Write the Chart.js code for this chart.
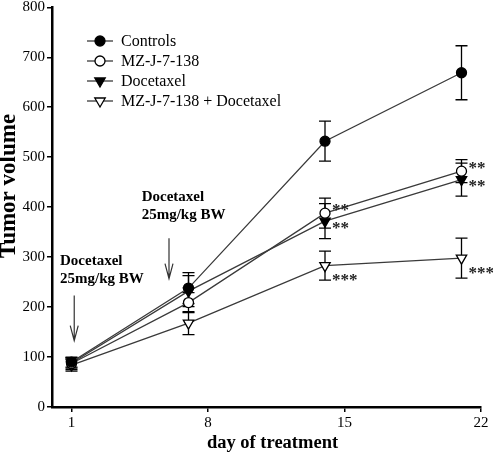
<!DOCTYPE html>
<html lang="en">
<head>
<meta charset="UTF-8">
<title>Tumor volume</title>
<script src="https://cdn.jsdelivr.net/npm/chart.js"></script>
<style>
  body { margin: 0; background: #fff; }
  #box { width: 493px; height: 452px; }
</style>
</head>
<body>
<div id="box"><canvas id="grafico"></canvas></div>
<script>
// data
const days = [1, 7, 14, 21]
const xTicks = [1, 8, 15, 22]
const controls = [90, 238, 532, 669]
const controlsErr = [10, 31, 40, 54]
const mz = [87, 209, 388, 472]
const mzErr = [12, 20, 30, 23]
const docetaxel = [88, 232, 372, 455]
const docetaxelErr = [10, 31, 35, 33]
const combo = [84, 168, 283, 298]
const comboErr = [12, 23, 29, 40]
const mzStars = ["", "", "**", "**"]
const docetaxelStars = ["", "", "**", "**"]
const comboStars = ["", "", "***", "***"]
// dosing arrows: day, arrow top value, arrow tip value
const doseDays = [1.14, 6.0]
const doseTop = [223, 338]
const doseTip = [133, 257]
const doseText = ["Docetaxel", "25mg/kg BW"]
const doseTextDay = [0.41, 4.6]
const doseTextValue = [292, 420]
const xTitle = "day of treatment"
const yTitle = "Tumor volume"

const serif = "'Liberation Serif', 'Times New Roman', serif"
const lineColor = "#3a3a3a"

function puntos(valores) {
    return days.map((d, i) => ({ x: d, y: valores[i] }))
}

const series = [
    { label: "Controls", data: puntos(controls), err: controlsErr, stars: null, starDy: 0,
      pointStyle: "circle", fill: "#000", radius: 5, rotation: 0 },
    { label: "MZ-J-7-138", data: puntos(mz), err: mzErr, stars: mzStars, starDy: -6,
      pointStyle: "circle", fill: "#fff", radius: 5, rotation: 0 },
    { label: "Docetaxel", data: puntos(docetaxel), err: docetaxelErr, stars: docetaxelStars, starDy: 4,
      pointStyle: "triangle", fill: "#000", radius: 6, rotation: 180 },
    { label: "MZ-J-7-138 + Docetaxel", data: puntos(combo), err: comboErr, stars: comboStars, starDy: 12,
      pointStyle: "triangle", fill: "#fff", radius: 6, rotation: 180 }
]

let datasetChart = series.map(s => ({
    label: s.label,
    data: s.data,
    borderColor: lineColor,
    borderWidth: 1.3,
    pointStyle: s.pointStyle,
    pointRadius: s.radius,
    pointRotation: s.rotation,
    pointBackgroundColor: s.fill,
    pointBorderColor: "#000",
    pointBorderWidth: 1.3,
    tension: 0,
    err: s.err,
    stars: s.stars,
    starDy: s.starDy
}))

// error bars behind the markers
const errorBars = {
    id: "errorBars",
    beforeDatasetsDraw(chart) {
        const ctx = chart.ctx
        const xs = chart.scales.x, ys = chart.scales.y
        ctx.save()
        ctx.strokeStyle = "#000"
        ctx.lineWidth = 1.3
        chart.data.datasets.forEach(ds => {
            ds.data.forEach((p, i) => {
                const px = xs.getPixelForValue(p.x)
                const top = ys.getPixelForValue(p.y + ds.err[i])
                const bot = ys.getPixelForValue(p.y - ds.err[i])
                ctx.beginPath()
                ctx.moveTo(px, top); ctx.lineTo(px, bot)
                ctx.moveTo(px - 6, top); ctx.lineTo(px + 6, top)
                ctx.moveTo(px - 6, bot); ctx.lineTo(px + 6, bot)
                ctx.stroke()
            })
        })
        ctx.restore()
    }
}

// stars, arrows, dose text, axis titles and the legend
const anotaciones = {
    id: "anotaciones",
    afterDraw(chart) {
        const ctx = chart.ctx
        const xs = chart.scales.x, ys = chart.scales.y
        const area = chart.chartArea
        ctx.save()
        ctx.fillStyle = "#222"
        ctx.font = "bold 17px " + serif
        ctx.textBaseline = "alphabetic"
        ctx.textAlign = "left"
        chart.data.datasets.forEach(ds => {
            if (!ds.stars) return
            ds.data.forEach((p, i) => {
                if (!ds.stars[i]) return
                const px = xs.getPixelForValue(p.x)
                const py = ys.getPixelForValue(p.y)
                const m = ctx.measureText(ds.stars[i])
                const medio = (m.actualBoundingBoxAscent - m.actualBoundingBoxDescent) / 2
                ctx.fillText(ds.stars[i], px + 7, py + ds.starDy + medio)
            })
        })

        // arrows
        ctx.fillStyle = "#000"
        ctx.strokeStyle = "#333"
        ctx.lineWidth = 1.2
        doseDays.forEach((d, i) => {
            const px = xs.getPixelForValue(d)
            const t = ys.getPixelForValue(doseTop[i])
            const b = ys.getPixelForValue(doseTip[i])
            ctx.beginPath()
            ctx.moveTo(px, t); ctx.lineTo(px, b)
            ctx.moveTo(px - 4, b - 15); ctx.lineTo(px, b); ctx.lineTo(px + 4, b - 15)
            ctx.stroke()
        })

        // dose text
        ctx.textBaseline = "middle"
        ctx.font = "bold 15px " + serif
        doseTextDay.forEach((d, i) => {
            const px = xs.getPixelForValue(d)
            const py = ys.getPixelForValue(doseTextValue[i])
            doseText.forEach((linea, j) => {
                ctx.fillText(linea, px, py + j * 18)
            })
        })

        // axis titles
        ctx.textAlign = "center"
        ctx.font = "bold 18.5px " + serif
        ctx.fillText(xTitle, (area.left + area.right) / 2 + 6, 443)
        ctx.save()
        ctx.translate(15, 186)
        ctx.rotate(-Math.PI / 2)
        ctx.textBaseline = "alphabetic"
        ctx.font = "bold 23px " + serif
        ctx.fillText(yTitle, 0, 0)
        ctx.restore()

        // legend
        ctx.textAlign = "left"
        ctx.font = "16px " + serif
        chart.data.datasets.forEach((ds, i) => {
            const y = 41 + i * 20
            ctx.beginPath()
            ctx.strokeStyle = lineColor
            ctx.lineWidth = 1.3
            ctx.moveTo(87, y); ctx.lineTo(113, y)
            ctx.stroke()
            ctx.fillStyle = ds.pointBackgroundColor
            ctx.strokeStyle = "#000"
            ctx.beginPath()
            if (ds.pointStyle === "circle") {
                ctx.arc(100, y, ds.pointRadius, 0, Math.PI * 2)
            } else {
                const r = ds.pointRadius
                ctx.moveTo(100 - r * 0.87, y - r * 0.5)
                ctx.lineTo(100 + r * 0.87, y - r * 0.5)
                ctx.lineTo(100, y + r)
                ctx.closePath()
            }
            ctx.fill()
            ctx.stroke()
            ctx.fillStyle = "#000"
            ctx.fillText(ds.label, 121, y + 1)
        })
        ctx.restore()
    }
}

new Chart(document.querySelector("#grafico"), {
    type: "line",
    data: { datasets: datasetChart },
    options: {
        responsive: true,
        maintainAspectRatio: false,
        animation: false,
        layout: { padding: { top: 5, right: 12, left: 0, bottom: 0 } },
        plugins: {
            legend: { display: false },
            tooltip: { enabled: false }
        },
        scales: {
            x: {
                type: "linear",
                min: 0,
                max: 22,
                afterBuildTicks: (s) => { s.ticks = xTicks.map(v => ({ value: v })) },
                afterFit: (s) => { s.height = 45; s.paddingRight = 0; s.paddingLeft = 0 },
                grid: { display: true, drawOnChartArea: false, drawTicks: true, tickLength: 5, color: "#000", lineWidth: 1.5 },
                border: { display: true, color: "#000", width: 2.5 },
                ticks: { color: "#000", font: { family: serif, size: 15 }, padding: 2, maxRotation: 0 },
                title: { display: false }
            },
            y: {
                min: 0,
                max: 800,
                afterFit: (s) => { s.width = 52; s.paddingTop = 0; s.paddingBottom = 0 },
                grid: { display: true, drawOnChartArea: false, drawTicks: true, tickLength: 5, color: "#000", lineWidth: 1.5 },
                border: { display: true, color: "#000", width: 2.5 },
                ticks: { stepSize: 100, color: "#000", font: { family: serif, size: 15 }, padding: 2 },
                title: { display: false }
            }
        }
    },
    plugins: [errorBars, anotaciones]
})
</script>
</body>
</html>
